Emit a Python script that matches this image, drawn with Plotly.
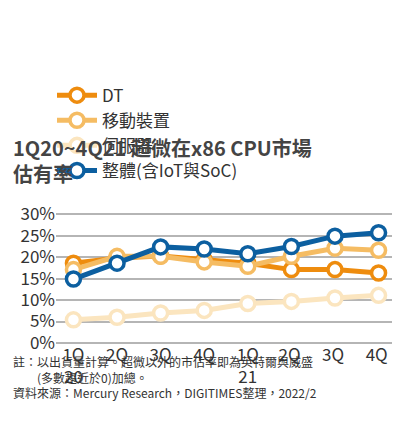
import plotly.graph_objs as go

quarters = ['1Q<br>20', '2Q', '3Q', '4Q', '1Q<br>21', '2Q ', '3Q ', '4Q ']
dt = [18.6, 19.8, 20.3, 19.4, 18.6, 17.1, 17.1, 16.3]
mobile = [17.1, 20.2, 20.2, 18.9, 17.9, 20.2, 22.1, 21.6]
server = [5.4, 6.0, 7.0, 7.6, 9.2, 9.7, 10.5, 11.1]
overall = [14.9, 18.6, 22.4, 21.9, 20.8, 22.5, 24.9, 25.7]
tick_vals = [0, 5, 10, 15, 20, 25, 30]
tick_text = ['0%', '5%', '10%', '15%', '20%', '25%', '30%']

series = [('DT', dt, '#ee8c0e'),
          ('移動裝置', mobile, '#f5bc63'),
          ('伺服器', server, '#fbe5bf'),
          ('整體(含IoT與SoC)', overall, '#0c5fa0')]

font = 'Noto Sans CJK TC'
fig = go.Figure()
for name, vals, color in series:
    fig.add_trace(go.Scatter(
        x=quarters, y=vals, name=name, mode='lines+markers',
        line=dict(color=color, width=5),
        marker=dict(size=14, color='white', line=dict(color=color, width=3.5))))

# plot area: top 130px, bottom 100px -> 205px tall
fig.update_layout(
    width=400, height=435, paper_bgcolor='white', plot_bgcolor='white',
    margin=dict(l=48, r=12, t=130, b=100),
    font=dict(family=font, size=16, color='#333333'),
    showlegend=True,
    legend=dict(orientation='h', x=0.11, xref='container', y=0.84, yref='container',
                xanchor='left', yanchor='top',
                font=dict(size=17, color='#333333'), itemwidth=40,
                traceorder='normal', tracegroupgap=0),
    xaxis=dict(showgrid=False, ticks='', tickfont=dict(size=17),
               showline=False, range=[-0.4, 7.4]),
    yaxis=dict(range=[0, 30.5], tickvals=tick_vals, ticktext=tick_text,
               gridcolor='#b5b5b5', gridwidth=1.5, zeroline=True,
               zerolinecolor='#b5b5b5', zerolinewidth=1.5,
               tickfont=dict(size=17), ticks=''),
)
fig.add_annotation(text='<b>1Q20~4Q21 超微在x86 CPU市場<br>估有率</b>', x=0.0, y=1.62,
                   xref='paper', yref='paper', xanchor='left', yanchor='top',
                   xshift=-45, align='left', showarrow=False,
                   font=dict(size=20, color='#444444', family=font))
fig.add_annotation(text='註：以出貨量計算。超微以外的市佔率即為英特爾與威盛<br>　　(多數趨近於0)加總。<br>資料來源：Mercury Research，DIGITIMES整理，2022/2',
                   x=0.0, y=-0.46, xref='paper', yref='paper', xshift=-45,
                   xanchor='left', yanchor='bottom', align='left', showarrow=False,
                   font=dict(size=12, color='#333333', family=font))
fig.write_html('out.html')
